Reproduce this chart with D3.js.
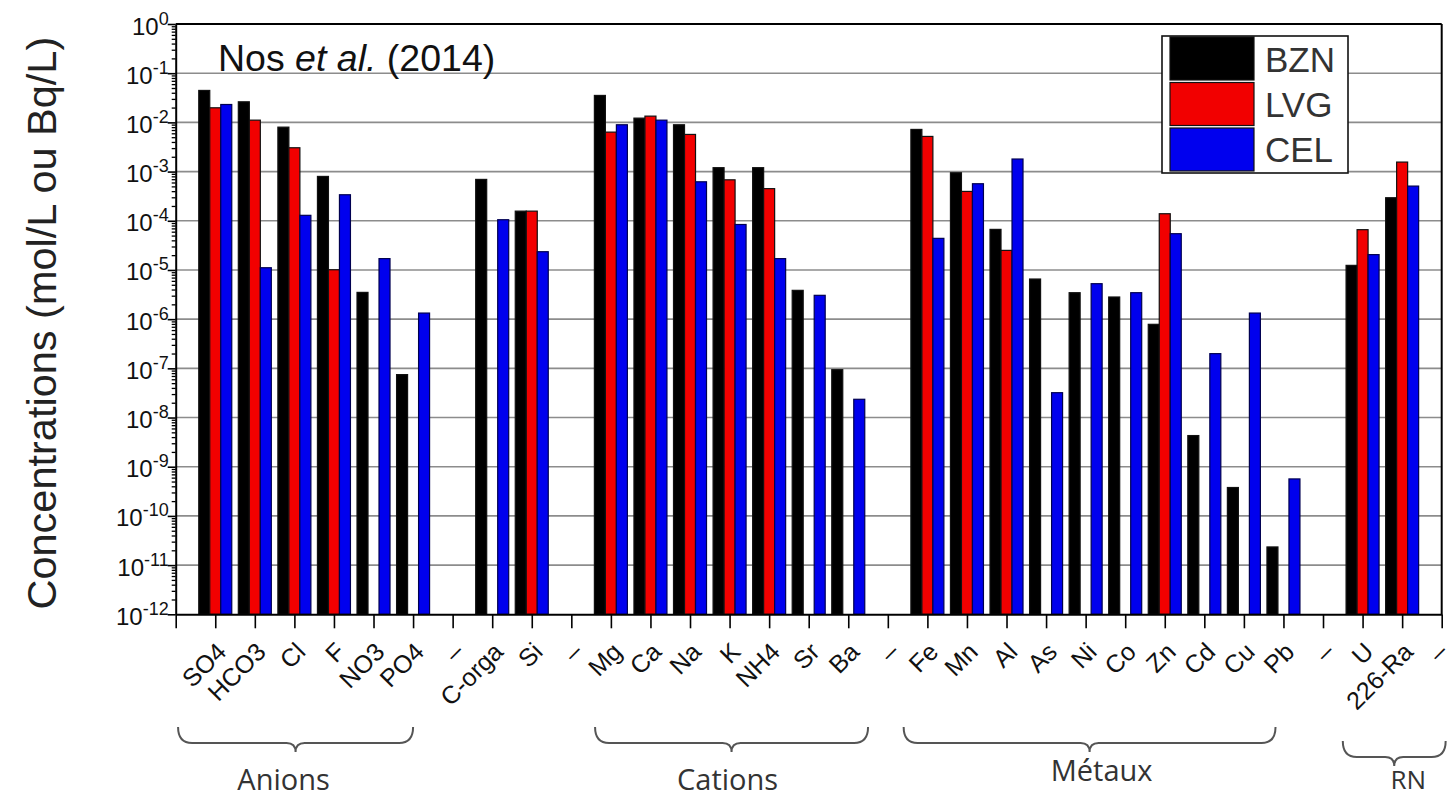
<!DOCTYPE html>
<html>
<head>
<meta charset="utf-8">
<script src="https://cdn.jsdelivr.net/npm/d3@7"></script>
<style>
  body { margin: 0; background: #fff; }
  svg { display: block; }
</style>
</head>
<body>
<svg id="chart" width="1454" height="801"></svg>
<script>
// ---- data ----------------------------------------------------------------
// x positions: "" is the origin slot, "–" are empty separators between groups
const categories = ["", "SO4", "HCO3", "Cl", "F", "NO3", "PO4", "–", "C-orga", "Si", "–",
  "Mg", "Ca", "Na", "K", "NH4", "Sr", "Ba", "–",
  "Fe", "Mn", "Al", "As", "Ni", "Co", "Zn", "Cd", "Cu", "Pb", "–",
  "U", "226-Ra", "–"];

const seriesNames = ["BZN", "LVG", "CEL"];
const seriesColors = ["#000000", "#f20000", "#0000ee"];

// concentrations in mol/L (Bq/L for U and 226-Ra); null = not measured
const bzn = [null, 0.0446, 0.0262, 0.0080, 7.97e-4, 3.5e-6, 7.46e-8, null, 6.93e-4, 1.57e-4, null,
  0.0353, 0.0122, 0.00895, 1.2e-3, 1.2e-3, 3.85e-6, 9.4e-8, null,
  7.19e-3, 9.47e-4, 6.68e-5, 6.54e-6, 3.45e-6, 2.82e-6, 7.85e-7, 4.3e-9, 3.78e-10, 2.34e-11, null,
  1.24e-5, 2.94e-4, null];
const lvg = [null, 0.0198, 0.0111, 0.00305, 1.01e-5, null, null, null, null, 1.57e-4, null,
  0.00634, 0.0134, 0.00569, 6.8e-4, 4.5e-4, null, null, null,
  5.18e-3, 3.95e-4, 2.5e-5, null, null, null, 1.39e-4, null, null, null, null,
  6.59e-5, 1.56e-3, null];
const cel = [null, 0.0231, 1.11e-5, 1.29e-4, 3.38e-4, 1.7e-5, 1.33e-6, null, 1.05e-4, 2.35e-5, null,
  0.00895, 0.0111, 6.2e-4, 8.4e-5, 1.7e-5, 3.05e-6, 2.35e-8, null,
  4.39e-5, 5.66e-4, 1.8e-3, 3.2e-8, 5.26e-6, 3.45e-6, 5.46e-5, 1.99e-7, 1.33e-6, 5.65e-10, null,
  2.05e-5, 5.07e-4, null];

const yExponents = [0, -1, -2, -3, -4, -5, -6, -7, -8, -9, -10, -11, -12];
const groupNames = ["Anions", "Cations", "Métaux", "RN"];
const yTitle = "Concentrations (mol/L ou Bq/L)";

// ---- layout --------------------------------------------------------------
const svg = d3.select("#chart");
const plotLeft = 175.7, plotRight = 1441.7, plotTop = 24, plotBottom = 614.3;
const axisFont = "'Liberation Sans', Arial, sans-serif";

const x = d3.scalePoint().domain(d3.range(categories.length)).range([plotLeft, plotRight]);
const step = x.step();
const y = d3.scaleLog().domain([1e-12, 1]).range([plotBottom, plotTop]);
const xs = d3.scaleBand().domain(seriesNames).range([-16.5, 16.5]).padding(0);

// horizontal grid at each decade
svg.append("g")
  .selectAll("line")
  .data(yExponents.filter(e => e < 0 && e > -12))
  .join("line")
  .attr("x1", plotLeft).attr("x2", plotRight)
  .attr("y1", e => y(10 ** e)).attr("y2", e => y(10 ** e))
  .attr("stroke", "#8c8c8c").attr("stroke-width", 1.6);

// bars
const seriesData = [bzn, lvg, cel];
seriesNames.forEach((name, si) => {
  svg.append("g")
    .selectAll("rect")
    .data(seriesData[si].map((v, i) => ({ v, i })).filter(d => d.v != null))
    .join("rect")
    .attr("x", d => x(d.i) + xs(name))
    .attr("width", xs.bandwidth())
    .attr("y", d => y(d.v))
    .attr("height", d => y(1e-12) - y(d.v))
    .attr("fill", seriesColors[si])
    .attr("stroke", si === 2 ? "#000050" : "#111")
    .attr("stroke-width", 1.2);
});

// frame: top and right edges
svg.append("line").attr("x1", plotLeft).attr("x2", plotRight).attr("y1", plotTop).attr("y2", plotTop)
  .attr("stroke", "#000").attr("stroke-width", 2);
svg.append("line").attr("x1", plotRight).attr("x2", plotRight).attr("y1", plotTop).attr("y2", plotBottom)
  .attr("stroke", "#000").attr("stroke-width", 2);

// y axis: minor ticks
const minor = [];
for (let e = -12; e < 0; e++) for (let m = 2; m <= 9; m++) minor.push(m * 10 ** e);
svg.append("g")
  .attr("transform", `translate(${plotLeft},0)`)
  .call(d3.axisLeft(y).tickValues(minor).tickSize(4).tickFormat("").tickSizeOuter(0))
  .call(g => g.select(".domain").remove())
  .call(g => g.selectAll("line").attr("stroke-width", 1.3));

// y axis: decades with 10^n labels
const yAxis = svg.append("g")
  .attr("transform", `translate(${plotLeft},0)`)
  .call(d3.axisLeft(y).tickValues(yExponents.map(e => 10 ** e)).tickSize(8).tickSizeOuter(0));
yAxis.select(".domain").attr("stroke-width", 2);
yAxis.selectAll("line").attr("stroke-width", 1.6);
yAxis.selectAll(".tick text")
  .attr("x", -7).attr("dy", null).attr("y", 10)
  .attr("font-family", axisFont).attr("font-size", 24).attr("fill", "#111")
  .attr("text-anchor", "end")
  .each(function (d) {
    const t = d3.select(this);
    t.text(null);
    t.append("tspan").text("10");
    t.append("tspan").attr("dy", -10).attr("font-size", 18).text(Math.round(Math.log10(d)));
  });

// x axis
const lastIndex = categories.length - 1;
const xAxis = svg.append("g")
  .attr("transform", `translate(0,${plotBottom})`)
  .call(d3.axisBottom(x).tickSize(14).tickSizeOuter(0).tickFormat(i => categories[i]));
xAxis.select(".domain").attr("stroke-width", 2);
xAxis.selectAll("line").attr("stroke-width", 1.6);
xAxis.selectAll(".tick text")
  .attr("x", 0).attr("y", 0).attr("dy", null)
  .attr("transform", i => `translate(${i === lastIndex ? 7 : 12},39) rotate(-45)`)
  .attr("text-anchor", "end")
  .attr("font-family", axisFont).attr("font-size", 25).attr("fill", "#111");

// y title
svg.append("text")
  .attr("transform", `translate(56,${(plotTop + plotBottom) / 2 + 4}) rotate(-90)`)
  .attr("text-anchor", "middle")
  .attr("font-family", axisFont).attr("font-size", 41.5).attr("fill", "#222")
  .text(yTitle);

// source note
const note = svg.append("text")
  .attr("x", 218).attr("y", 71)
  .attr("font-family", axisFont).attr("font-size", 37.5).attr("fill", "#111");
note.append("tspan").text("Nos ");
note.append("tspan").attr("font-style", "italic").text("et al.");
note.append("tspan").text(" (2014)");

// legend
const lg = svg.append("g");
lg.append("rect").attr("x", 1162).attr("y", 36).attr("width", 186).attr("height", 137)
  .attr("fill", "#fff").attr("stroke", "#111").attr("stroke-width", 1.6);
seriesNames.forEach((name, i) => {
  lg.append("rect").attr("x", 1170).attr("y", 37 + i * 45.5).attr("width", 84).attr("height", 43)
    .attr("fill", seriesColors[i]).attr("stroke", "#111").attr("stroke-width", 1.2);
  lg.append("text").attr("x", 1265).attr("y", 72 + i * 45)
    .attr("font-family", axisFont).attr("font-size", 35).attr("fill", "#333")
    .text(name);
});

// group braces under the category labels (spans in category units)
const groupSpans = [
  { a: 0.06, b: 6.0, y0: 727, y1: 743, tip: 752, ty: 790, dx: -12, fs: 29 },
  { a: 10.6, b: 17.5, y0: 727, y1: 743, tip: 752, ty: 790, dx: -4, fs: 29 },
  { a: 18.4, b: 27.8, y0: 727, y1: 743, tip: 752, ty: 781, dx: 12, fs: 29 },
  { a: 29.5, b: 32.1, y0: 741, y1: 757, tip: 766, ty: 789, dx: 14, fs: 26 }
];
const xAt = p => plotLeft + p * step;
function bracePath(x1, x2, y0, y1, tip) {
  const xm = (x1 + x2) / 2, q = 14, q2 = 9;
  return `M${x1},${y0} Q${x1},${y1} ${x1 + q},${y1} L${xm - q2},${y1} Q${xm},${y1} ${xm},${tip}` +
         ` Q${xm},${y1} ${xm + q2},${y1} L${x2 - q},${y1} Q${x2},${y1} ${x2},${y0}`;
}
groupSpans.forEach((s, i) => {
  const x1 = xAt(s.a), x2 = xAt(s.b);
  svg.append("path").attr("d", bracePath(x1, x2, s.y0, s.y1, s.tip))
    .attr("fill", "none").attr("stroke", "#555").attr("stroke-width", 2);
  svg.append("text").attr("x", (x1 + x2) / 2 + s.dx).attr("y", s.ty)
    .attr("text-anchor", "middle")
    .attr("font-family", "'Open Sans', sans-serif").attr("font-size", s.fs).attr("fill", "#333")
    .text(groupNames[i]);
});
</script>
</body>
</html>
